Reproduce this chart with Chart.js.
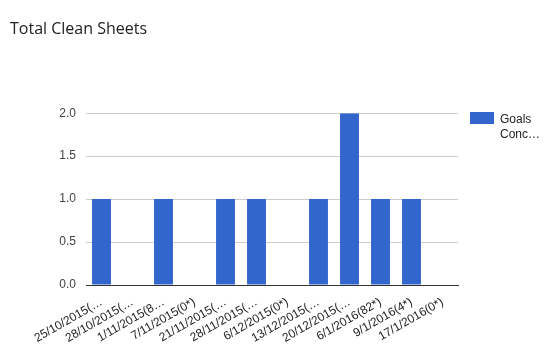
<!DOCTYPE html>
<html>
<head>
<meta charset="utf-8">
<script src="https://cdn.jsdelivr.net/npm/chart.js@4/dist/chart.umd.min.js"></script>
<style>
  html, body { margin: 0; padding: 0; background: #fff; }
  #wrap { width: 560px; height: 353px; position: relative; }
</style>
</head>
<body>
<div id="wrap"><canvas id="cleanSheets"></canvas></div>
<script>
const match_dates = ['25/10/2015(\u2026', '28/10/2015(\u2026', '1/11/2015(8\u2026', '7/11/2015(0*)',
  '21/11/2015(\u2026', '28/11/2015(\u2026', '6/12/2015(0*)', '13/12/2015(\u2026',
  '20/12/2015(\u2026', '6/1/2016(82*)', '9/1/2016(4*)', '17/1/2016(0*)'];
const clean_sheets = [1, 0, 1, 0, 1, 1, 0, 1, 2, 1, 1, 0];
const y_ticks = [0, 0.5, 1, 1.5, 2];
const series_label = ['Goals', 'Conc\u2026'];

const bar_colour = '#3366cc';

// legend drawn by hand so the label can wrap onto two lines like the original
const sideLegend = {
  id: 'sideLegend',
  afterDraw(chart) {
    const ctx = chart.ctx;
    ctx.save();
    ctx.fillStyle = bar_colour;
    ctx.fillRect(470, 112, 24, 12);
    ctx.fillStyle = '#222';
    ctx.font = '12px "Liberation Sans", Arial, sans-serif';
    ctx.textBaseline = 'alphabetic';
    series_label.forEach((line, i) => ctx.fillText(line, 500, 123 + i * 15));
    ctx.restore();
  }
};

new Chart(document.getElementById('cleanSheets'), {
  type: 'bar',
  data: {
    labels: match_dates,
    datasets: [{
      label: series_label.join(' '),
      data: clean_sheets,
      backgroundColor: bar_colour,
      barPercentage: 0.61,
      categoryPercentage: 1
    }]
  },
  options: {
    responsive: true,
    maintainAspectRatio: false,
    animation: false,
    layout: { padding: { left: 10, right: 102, top: 0, bottom: 0 } },
    plugins: {
      legend: { display: false },
      tooltip: { enabled: false },
      title: {
        display: true,
        text: 'Total Clean Sheets',
        align: 'start',
        color: '#222',
        font: { family: '"Open Sans", sans-serif', size: 16, weight: 'normal' },
        padding: { top: 20, bottom: 74 }
      }
    },
    scales: {
      x: {
        grid: { display: false },
        border: { display: true, color: '#333', width: 1 },
        ticks: {
          autoSkip: false,
          minRotation: 30,
          maxRotation: 30,
          color: '#222',
          padding: 2,
          font: { family: '"Liberation Sans", Arial, sans-serif', size: 12 }
        },
        afterFit(scale) { scale.height = 68; }
      },
      y: {
        min: 0,
        max: 2,
        afterBuildTicks(scale) { scale.ticks = y_ticks.map(v => ({ value: v })); },
        grid: { color: '#cccccc', drawTicks: false },
        border: { display: false },
        ticks: {
          color: '#444',
          padding: 10,
          font: { family: '"Liberation Sans", Arial, sans-serif', size: 12 },
          callback: v => Number(v).toFixed(1)
        },
        afterFit(scale) { scale.width = 76; }
      }
    }
  },
  plugins: [sideLegend]
});
</script>
</body>
</html>
